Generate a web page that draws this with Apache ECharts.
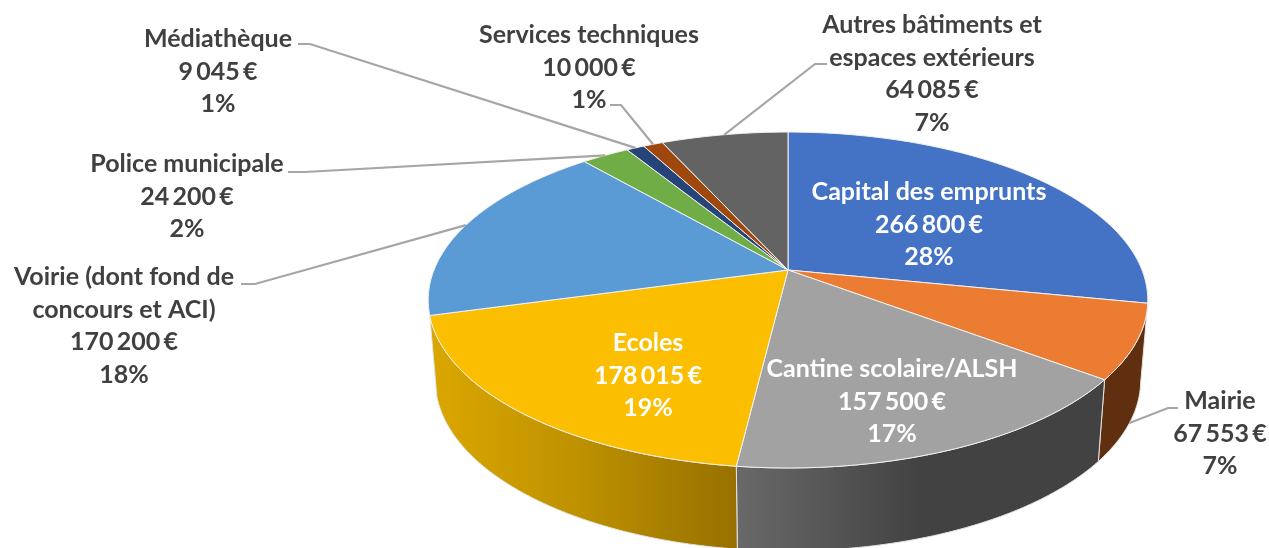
<!DOCTYPE html>
<html>
<head>
<meta charset="utf-8">
<title>Dépenses par poste</title>
<style>
  html, body { margin: 0; padding: 0; background: #fff; }
  #chart { width: 1269px; height: 548px; }
</style>
<script src="https://cdn.jsdelivr.net/npm/echarts@6/dist/echarts.min.js"></script>
</head>
<body>
<div id="chart"></div>
<script>
const categories = [
  'Capital des emprunts', 'Mairie', 'Cantine scolaire/ALSH', 'Ecoles',
  'Voirie (dont fond de\nconcours et ACI)', 'Police municipale',
  'Médiathèque', 'Services techniques', 'Autres bâtiments et\nespaces extérieurs'
]
const amounts = [266800, 67553, 157500, 178015, 170200, 24200, 9045, 10000, 64085]
// the 2% of Police is what the picture prints, so the percents are not recomputed
const percents = [28, 7, 17, 19, 18, 2, 1, 1, 7]

const colors = ['#4472C4', '#EB7C31', '#A2A2A2', '#FBBE00', '#5B9BD5', '#70AD47', '#264478', '#9E480E', '#636363']
const wallColors = [null, ['#5F2F10', '#5F2F10', '#5F2F10'], ['#696969', '#424242', '#424242'], ['#DBA700', '#BD9000', '#977000'], null, null, null, null, null]

// label anchor: centre x, y of first line, text colour
const labelPos = [
  [929, 192, '#fff'], [1220, 401, '#404040'], [892, 369, '#fff'], [648, 343, '#fff'],
  [124, 277, '#404040'], [187, 164, '#404040'], [218, 39, '#404040'], [589, 35, '#404040'], [932, 25, '#404040']
]
// leader line: start and elbow near the label, the end comes from the slice
const leaders = [
  null, [[1178, 408], [1168, 408]], null, null,
  [[241, 284], [255, 284]], [[288, 172], [305, 172]], [[298, 44], [310, 44]], [[610, 105], [621, 105]], [[827, 64], [815, 64]]
]

const total = amounts.reduce((a, b) => a + b, 0)
const TAU = Math.PI * 2
const topDisc = { cx: 788, cy: 270, a: 354, b: 162.6, p: 0.1786 }
const lowDisc = { cx: 788, cy: 350, a: 347, b: 165, p: 0.1786 }
const lineHeight = 32.6

function project(disc, angle) {
  const x = Math.sin(angle)
  const y = Math.cos(angle)
  const w = 1 + disc.p * y
  return [disc.cx + disc.a * x / w, disc.cy - disc.b * y / w]
}

function sliceAngles(index) {
  let before = 0
  for (let i = 0; i < index; i++) before += amounts[i]
  return [before / total * TAU, (before + amounts[index]) / total * TAU]
}

function rim(disc, start, end) {
  const steps = Math.max(2, Math.ceil((end - start) / 0.01))
  const pts = []
  for (let i = 0; i <= steps; i++) pts.push(project(disc, start + (end - start) * i / steps))
  return pts
}

function renderWall(params, api) {
  const i = params.dataIndex
  const shades = wallColors[i]
  if (!shades || !api.value(0)) return null
  const [start, end] = sliceAngles(i)
  const pts = rim(topDisc, start, end).concat(rim(lowDisc, start, end).reverse())
  return {
    type: 'polygon',
    shape: { points: pts },
    style: {
      fill: new echarts.graphic.LinearGradient(0, 0, 1, 0, [
        { offset: 0, color: shades[0] },
        { offset: 0.5, color: shades[1] },
        { offset: 1, color: shades[2] }
      ]),
      stroke: '#E4E4E4',
      lineWidth: 1
    }
  }
}

function renderTop(params, api) {
  const i = params.dataIndex
  const [start, end] = sliceAngles(i)
  const pts = [[topDisc.cx, topDisc.cy]].concat(rim(topDisc, start, end))
  return {
    type: 'polygon',
    shape: { points: pts },
    style: { fill: colors[i], stroke: '#F2F2F2', lineWidth: 1 }
  }
}

function renderLabel(params, api) {
  const i = params.dataIndex
  const [start, end] = sliceAngles(i)
  const mid = (start + end) / 2
  const [x, y, color] = labelPos[i]
  const money = String(api.value(0)).replace(/\B(?=(\d{3})+$)/g, '\u2009') + '\u2009€'
  const lines = categories[i].split('\n').concat([money, percents[i] + '%'])
  const children = lines.map((line, n) => ({
    type: 'text',
    style: {
      x: x,
      y: y + n * lineHeight,
      text: line,
      fill: color,
      font: 'bold 25px Lato, "Noto Sans", sans-serif',
      align: 'center',
      verticalAlign: 'middle'
    }
  }))
  if (leaders[i]) {
    // Mairie hangs off the wall, the others off the top rim
    const end2 = project(wallColors[i] ? lowDisc : topDisc, mid)
    children.unshift({
      type: 'polyline',
      shape: { points: leaders[i].concat([end2]) },
      style: { fill: null, stroke: '#A6A6A6', lineWidth: 2.2 }
    })
  }
  return { type: 'group', children: children }
}

const seriesData = amounts.map(v => [v])
const chart = echarts.init(document.getElementById('chart'))
chart.setOption({
  animation: false,
  backgroundColor: '#fff',
  tooltip: { show: false },
  series: [
    { type: 'custom', name: 'parois', coordinateSystem: 'none', silent: true, z: 1, data: seriesData, renderItem: renderWall },
    { type: 'custom', name: 'parts', coordinateSystem: 'none', silent: true, z: 2, data: seriesData, renderItem: renderTop },
    { type: 'custom', name: 'etiquettes', coordinateSystem: 'none', silent: true, z: 3, data: seriesData, renderItem: renderLabel }
  ]
})
</script>
</body>
</html>
